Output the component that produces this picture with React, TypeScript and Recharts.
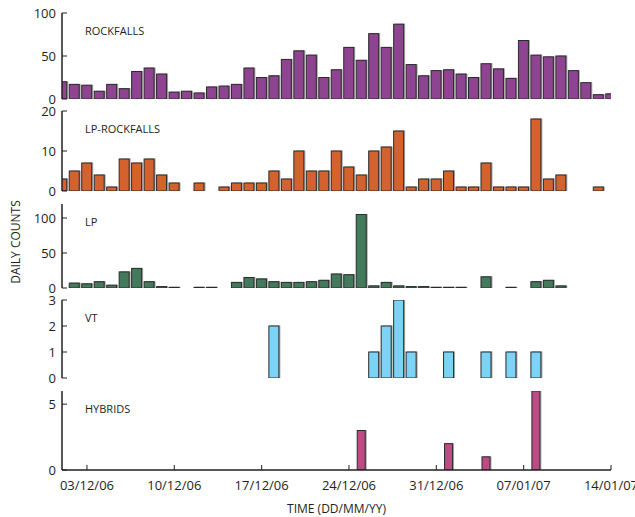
import React from 'react';
import { BarChart, Bar, XAxis, YAxis } from 'recharts';

// daily counts, 01/12/06 .. 14/01/07 (45 days, index 0 = 01/12/06)
const ROCKFALLS = [20, 17, 16, 9, 17, 12, 32, 36, 29, 8, 9, 7, 14, 15, 17, 36, 25, 27, 46, 56, 51, 25, 34, 60, 45, 76, 60, 87, 40, 27, 33, 34, 29, 25, 41, 35, 24, 68, 51, 49, 50, 33, 19, 5, 6];
const LP_ROCKFALLS = [3, 5, 7, 4, 1, 8, 7, 8, 4, 2, 0, 2, 0, 1, 2, 2, 2, 5, 3, 10, 5, 5, 10, 6, 4, 10, 11, 15, 1, 3, 3, 5, 1, 1, 7, 1, 1, 1, 18, 3, 4, 0, 0, 1, 0];
const LP = [0, 7, 6, 9, 4, 23, 28, 9, 2, 1, 0, 1, 1, 0, 8, 15, 13, 9, 8, 8, 9, 11, 20, 19, 105, 3, 8, 3, 2, 2, 1, 1, 1, 0, 16, 0, 1, 0, 9, 11, 3, 0, 0, 0, 0];
const VT = [0, 0, 0, 0, 0, 0, 0, 0, 0, 0, 0, 0, 0, 0, 0, 0, 0, 2, 0, 0, 0, 0, 0, 0, 0, 1, 2, 3, 1, 0, 0, 1, 0, 0, 1, 0, 1, 0, 1, 0, 0, 0, 0, 0, 0];
const HYBRIDS = [0, 0, 0, 0, 0, 0, 0, 0, 0, 0, 0, 0, 0, 0, 0, 0, 0, 0, 0, 0, 0, 0, 0, 0, 3, 0, 0, 0, 0, 0, 0, 2, 0, 0, 1, 0, 0, 0, 6, 0, 0, 0, 0, 0, 0];

// x ticks (day index) and their labels
const DATE_TICKS = [2, 9, 16, 23, 30, 37, 44];
const DATE_LABELS = ['03/12/06', '10/12/06', '17/12/06', '24/12/06', '31/12/06', '07/01/07', '14/01/07'];

const INK = '#231f20';
const FONT = '"Open Sans", "DejaVu Sans", sans-serif';
const PAD = 10; // room above/below each plot so the end tick labels aren't cut

// bar with a thin grey drop shadow on its right, like the print
const ShadowBar = (props: any) => {
  const { x, y, width, height, fill } = props;
  if (!height || height <= 0) return null;
  return (
    <g>
      <rect x={x + 1.5} y={y - 0.5} width={width} height={height + 0.5} fill="#a8a8a8" />
      <rect x={x} y={y} width={width} height={height} fill={fill} stroke="#2a2a2a" strokeWidth={1} />
    </g>
  );
};

interface PanelProps {
  top: number;
  plotHeight: number;
  values: number[];
  color: string;
  name: string;
  domain: [number, number];
  yTicks: number[];
  barSize: number;
  showDates?: boolean;
}

function Panel({ top, plotHeight, values, color, name, domain, yTicks, barSize, showDates }: PanelProps) {
  const data = values.map((v, i) => ({ day: i, value: v }));
  const bottomAxis = showDates ? 30 : 0;
  const height = plotHeight + 2 * PAD + bottomAxis;
  const axisLine = { stroke: INK, strokeWidth: 1.5 };
  const tickLine = { stroke: INK, strokeWidth: 1 };

  return (
    <div style={{ position: 'absolute', left: 0, top: top - PAD }}>
      <BarChart width={635} height={height} data={data} margin={{ top: PAD, right: 24, bottom: PAD, left: 22 }}>
        <XAxis
          xAxisId="b"
          dataKey="day"
          type="number"
          domain={[0, 44]}
          allowDataOverflow
          ticks={DATE_TICKS}
          interval={0}
          height={bottomAxis}
          tickSize={-5}
          tickMargin={16}
          axisLine={axisLine}
          tickLine={tickLine}
          tick={showDates ? { fill: INK, fontSize: 13, fontFamily: FONT } : false}
          tickFormatter={(v: number) => DATE_LABELS[DATE_TICKS.indexOf(v)] ?? ''}
        />
        <XAxis
          xAxisId="t"
          orientation="top"
          type="number"
          domain={[0, 44]}
          allowDataOverflow
          ticks={DATE_TICKS}
          interval={0}
          height={0}
          tickSize={-5}
          axisLine={axisLine}
          tickLine={tickLine}
          tick={false}
        />
        <YAxis
          yAxisId="l"
          type="number"
          domain={domain}
          allowDataOverflow
          ticks={yTicks}
          interval={0}
          width={40}
          tickSize={-5}
          tickMargin={11}
          axisLine={axisLine}
          tickLine={tickLine}
          tick={{ fill: INK, fontSize: 13, fontFamily: FONT }}
        />
        <YAxis
          yAxisId="r"
          orientation="right"
          type="number"
          domain={domain}
          allowDataOverflow
          ticks={yTicks}
          interval={0}
          width={0}
          tickSize={-5}
          axisLine={axisLine}
          tickLine={tickLine}
          tick={false}
        />
        <Bar
          xAxisId="b"
          yAxisId="l"
          dataKey="value"
          fill={color}
          barSize={barSize}
          shape={<ShadowBar />}
          isAnimationActive={false}
        />
      </BarChart>
      <div
        style={{
          position: 'absolute',
          left: 85,
          top: PAD + 12,
          fontFamily: FONT,
          fontSize: 11,
          lineHeight: '12px',
          color: INK,
        }}
      >
        {name}
      </div>
    </div>
  );
}

export default function App() {
  return (
    <div style={{ position: 'absolute', left: 0, top: 0, width: 635, height: 517, background: '#fff' }}>
      <Panel top={13} plotHeight={86} values={ROCKFALLS} color="#8e4491" name="ROCKFALLS" domain={[0, 100]} yTicks={[0, 50, 100]} barSize={10} />
      <Panel top={111} plotHeight={80} values={LP_ROCKFALLS} color="#d4622e" name="LP-ROCKFALLS" domain={[0, 20]} yTicks={[0, 10, 20]} barSize={10} />
      <Panel top={204} plotHeight={84} values={LP} color="#437a5c" name="LP" domain={[0, 120]} yTicks={[0, 50, 100]} barSize={10} />
      <Panel top={300} plotHeight={78} values={VT} color="#7dd3f5" name="VT" domain={[0, 3]} yTicks={[0, 1, 2, 3]} barSize={10} />
      <Panel top={391} plotHeight={79} values={HYBRIDS} color="#be4c84" name="HYBRIDS" domain={[0, 6]} yTicks={[0, 5]} barSize={8} showDates />
      <div
        style={{
          position: 'absolute',
          left: 15,
          top: 242,
          transform: 'translate(-50%, -50%) rotate(-90deg)',
          whiteSpace: 'nowrap',
          fontFamily: FONT,
          fontSize: 12,
          color: INK,
        }}
      >
        DAILY COUNTS
      </div>
      <div
        style={{
          position: 'absolute',
          left: 62,
          width: 549,
          top: 500,
          textAlign: 'center',
          fontFamily: FONT,
          fontSize: 12,
          color: INK,
        }}
      >
        TIME (DD/MM/YY)
      </div>
    </div>
  );
}
